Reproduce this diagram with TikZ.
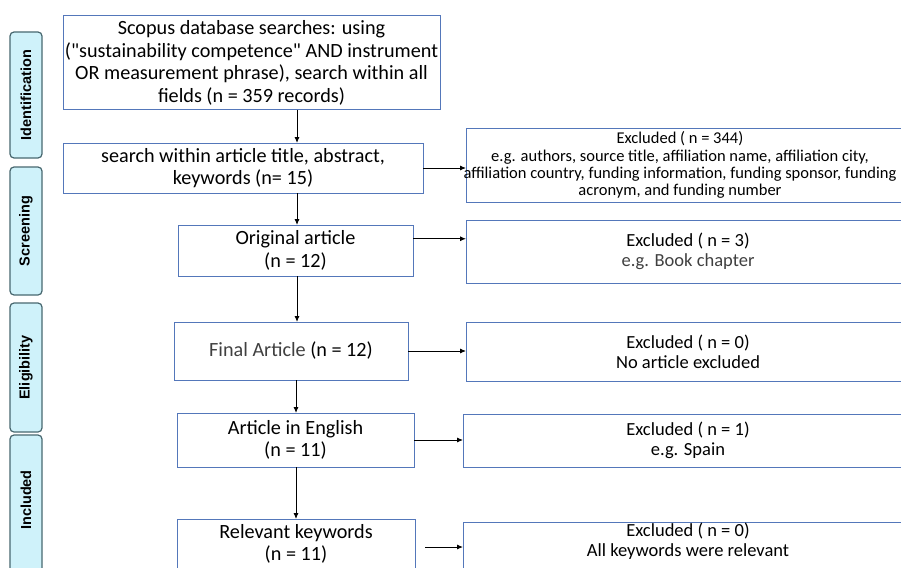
\documentclass[tikz,border=0pt]{standalone}
\usepackage{fontspec}
\setmainfont{Carlito}[Ligatures=TeXOff]
\newfontfamily\sidefont{Liberation Sans}
\usetikzlibrary{arrows.meta,calc}
\definecolor{boxblue}{RGB}{84,119,186}
\definecolor{sidefill}{RGB}{207,242,250}
\definecolor{sidedraw}{RGB}{72,104,112}
\definecolor{graytext}{RGB}{64,64,64}
\tikzset{
  box/.style={draw=boxblue, line width=1pt, fill=white, inner sep=0pt, outer sep=0pt, anchor=north west, align=center},
  bigtxt/.style={font=\fontsize{20.2}{22.5}\selectfont},
  smalltxt/.style={font=\fontsize{16.5}{17.2}\selectfont},
  midtxt/.style={font=\fontsize{18.5}{20}\selectfont},
  side/.style={draw=sidedraw, fill=sidefill, line width=1.2pt, rounded corners=4pt, anchor=north west, inner sep=0pt, outer sep=0pt},
  sidelabel/.style={font=\sidefont\bfseries\fontsize{14.5}{16}\selectfont, rotate=90},
  arr/.style={draw=black, line width=0.9pt, -{Latex[length=6pt,width=5pt]}}
}
\begin{document}
\begin{tikzpicture}[x=1pt,y=-1pt]
\useasboundingbox (0,0) rectangle (901,567);
\clip (0,0) rectangle (901,567);
\fill[white] (0,0) rectangle (901,567);
% side bars
\node[side, minimum width=32pt, minimum height=126pt] (s1) at (10,32) {};
\node[sidelabel] at (s1.center) {Identification};
\node[side, minimum width=32pt, minimum height=128pt] (s2) at (10,167) {};
\node[sidelabel] at (s2.center) {Screening};
\node[side, minimum width=32pt, minimum height=129pt] (s3) at (10,303) {};
\node[sidelabel] at (s3.center) {Eligibility};
\node[side, minimum width=32pt, minimum height=140pt] (s4) at (10,435) {};
\node[sidelabel] at ($(s4.north)+(0,65)$) {Included};
% main boxes
\node[box, bigtxt, minimum width=377pt, minimum height=94pt] (b1) at (63,16)
  {\rule{0pt}{0pt}Scopus database searches: using\\("sustainability competence" AND instrument\\OR measurement phrase), search within all\\fields (n = 359 records)};
\node[box, bigtxt, minimum width=360pt, minimum height=50pt] (b2) at (63,143)
  {search within article title, abstract,\\keywords (n= 15)};
\node[box, bigtxt, minimum width=235pt, minimum height=51pt] (b3) at (178,225)
  {Original article\\(n = 12)};
\node[box, bigtxt, minimum width=234pt, minimum height=58pt] (b4) at (174,322)
  {\textcolor{graytext}{Final Article} (n = 12)};
\node[box, bigtxt, minimum width=237pt, minimum height=54pt] (b5) at (177,413)
  {Article in English\\(n = 11)};
\node[box, minimum width=238pt, minimum height=70pt] (b6) at (177,519) {};
\node[bigtxt, align=center, anchor=north, inner sep=0pt] (b6t) at ($(b6.north)+(0,5)$)
  {Relevant keywords\\(n = 11)};
% excluded boxes
\node[box, minimum width=450pt, minimum height=74pt] (e1) at (466,128) {};
\node[smalltxt, align=center, inner sep=0pt] (e1t) at ($(e1.center)+(-11,0)$)
  {Excluded ( n = 344)\\e.g. authors, source title, affiliation name, affiliation city,\\affiliation country, funding information, funding sponsor, funding\\acronym, and funding number};
\node[box, midtxt, minimum width=444pt, minimum height=63pt] (e2) at (466,220)
  {Excluded ( n = 3)\\\textcolor{graytext}{e.g. Book chapter}};
\node[box, midtxt, minimum width=444pt, minimum height=59pt] (e3) at (466,322)
  {Excluded ( n = 0)\\No article excluded};
\node[box, midtxt, minimum width=450pt, minimum height=53pt] (e4) at (463,414)
  {Excluded ( n = 1)\\e.g. Spain};
\node[box, minimum width=450pt, minimum height=70pt] (e5) at (463,522) {};
\node[midtxt, align=center, anchor=north, inner sep=0pt] (e5t) at ($(e5.north)+(0,1)$)
  {Excluded ( n = 0)\\All keywords were relevant};
% connectors
\coordinate (cx) at (297,0);
\coordinate (cy) at (296,0);
\draw[arr] (b1.south -| cx) -- (b2.north -| cx);
\draw[arr] (b2.south -| cx) -- (b3.north -| cx);
\draw[arr] (b3.south -| cx) -- (b4.north -| cx);
\draw[arr] (b4.south -| cy) -- (b5.north -| cy);
\draw[arr] (b5.south -| cy) -- (b6.north -| cy);
\draw[arr] (b2.east) -- (b2.east -| e1.west);
\coordinate (h3) at ($(b3.north east)!0.27!(b3.south east)$);
\draw[arr] (h3) -- (h3 -| e2.west);
\draw[arr] (b4.east) -- (b4.east -| e3.west);
\draw[arr] (b5.east) -- (b5.east -| e4.west);
\coordinate (h6) at ($(b6.north east)+(10,28)$);
\draw[arr] (h6) -- (h6 -| e5.west);
\end{tikzpicture}
\end{document}
